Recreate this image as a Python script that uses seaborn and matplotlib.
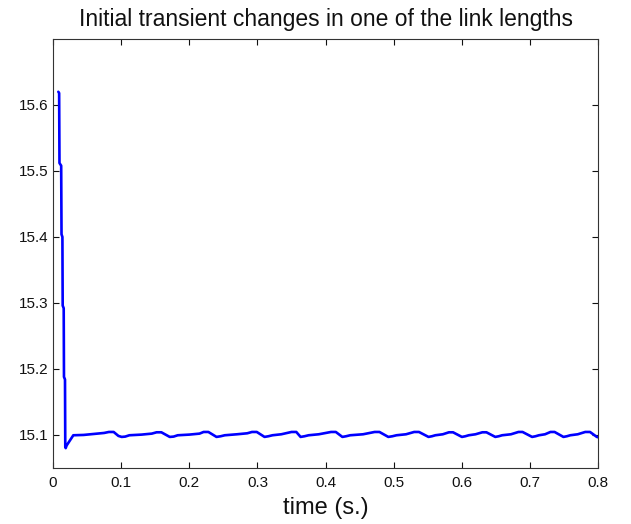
import matplotlib
matplotlib.use("Agg")
import matplotlib.pyplot as plt
import seaborn as sns
import pandas as pd

title = "Initial transient changes in one of the link lengths"
xlabel = "time (s.)"
xticks = [0, 0.1, 0.2, 0.3, 0.4, 0.5, 0.6, 0.7, 0.8]
xtick_labels = ["0", "0.1", "0.2", "0.3", "0.4", "0.5", "0.6", "0.7", "0.8"]
yticks = [15.1, 15.2, 15.3, 15.4, 15.5, 15.6]
ytick_labels = ["15.1", "15.2", "15.3", "15.4", "15.5", "15.6"]

# initial transient
t_init = [0.0078, 0.0090, 0.0095, 0.0120, 0.0125, 0.0138, 0.0142, 0.0157, 0.0161,
          0.0176, 0.0180, 0.0186, 0.0200, 0.0298]
v_init = [15.620, 15.618, 15.512, 15.508, 15.404, 15.400, 15.296, 15.292, 15.188,
          15.184, 15.082, 15.080, 15.084, 15.0995]

# small periodic ripple afterwards
t_rip = [0.045, 0.060, 0.075, 0.082, 0.089, 0.096, 0.1008, 0.106, 0.112, 0.130, 0.145,
         0.152, 0.159, 0.1713, 0.177, 0.183, 0.200, 0.215, 0.221, 0.228, 0.2399, 0.246,
         0.252, 0.270, 0.285, 0.292, 0.299, 0.3104, 0.316, 0.322, 0.335, 0.350, 0.357,
         0.3633, 0.369, 0.375, 0.390, 0.408, 0.415, 0.4246, 0.430, 0.436, 0.455, 0.472,
         0.479, 0.492, 0.498, 0.504, 0.518, 0.530, 0.537, 0.551, 0.556, 0.561, 0.572,
         0.581, 0.587, 0.600, 0.605, 0.610, 0.620, 0.630, 0.636, 0.649, 0.654, 0.659,
         0.672, 0.683, 0.689, 0.703, 0.708, 0.713, 0.722, 0.730, 0.736, 0.749, 0.754,
         0.759, 0.770, 0.781, 0.788, 0.798, 0.800]
v_rip = [15.100, 15.1015, 15.103, 15.1045, 15.1045, 15.0985, 15.097, 15.0975, 15.0995,
         15.1005, 15.102, 15.104, 15.104, 15.097, 15.0975, 15.0995, 15.1005, 15.102,
         15.1045, 15.1045, 15.097, 15.098, 15.0995, 15.101, 15.1025, 15.1045, 15.1045,
         15.097, 15.098, 15.0995, 15.101, 15.1045, 15.1045, 15.097, 15.098, 15.0995,
         15.101, 15.1045, 15.1045, 15.097, 15.098, 15.0995, 15.101, 15.1045, 15.1045,
         15.097, 15.098, 15.0995, 15.101, 15.1045, 15.1045, 15.097, 15.098, 15.0995,
         15.101, 15.104, 15.104, 15.097, 15.098, 15.0995, 15.101, 15.104, 15.104,
         15.097, 15.098, 15.0995, 15.101, 15.1045, 15.1045, 15.097, 15.098, 15.0995,
         15.101, 15.1045, 15.1045, 15.097, 15.098, 15.0995, 15.101, 15.1045, 15.1045,
         15.097, 15.0965]

df = pd.DataFrame({"t": t_init + t_rip, "L": v_init + v_rip})

sns.set_theme(style="ticks")
plt.rcParams["font.family"] = ["Liberation Sans", "DejaVu Sans"]

fig = plt.figure(figsize=(6.31, 5.24), dpi=100)
ax = fig.add_axes([0.084, 0.107, 0.864, 0.8186])
sns.lineplot(data=df, x="t", y="L", sort=False, estimator=None, color="#0000ff",
             linewidth=1.9, ax=ax)
ax.set_xlim(0, 0.8)
ax.set_ylim(15.05, 15.7)
ax.set_xticks(xticks)
ax.set_xticklabels(xtick_labels)
ax.set_yticks(yticks)
ax.set_yticklabels(ytick_labels)
ax.tick_params(direction="in", top=True, right=True, length=4, width=0.8,
               labelsize=11, colors="#111111")
ax.tick_params(axis="x", pad=5.5)
ax.tick_params(axis="y", pad=3.5)
for s in ax.spines.values():
    s.set_color("#333333")
    s.set_linewidth(0.8)
ax.set_xlabel(xlabel, fontsize=17, labelpad=5, color="#111111")
ax.set_ylabel("")
ax.set_title(title, fontsize=16.5, pad=9.4, color="#111111")
fig.savefig("out.png", dpi=100, facecolor="white")
